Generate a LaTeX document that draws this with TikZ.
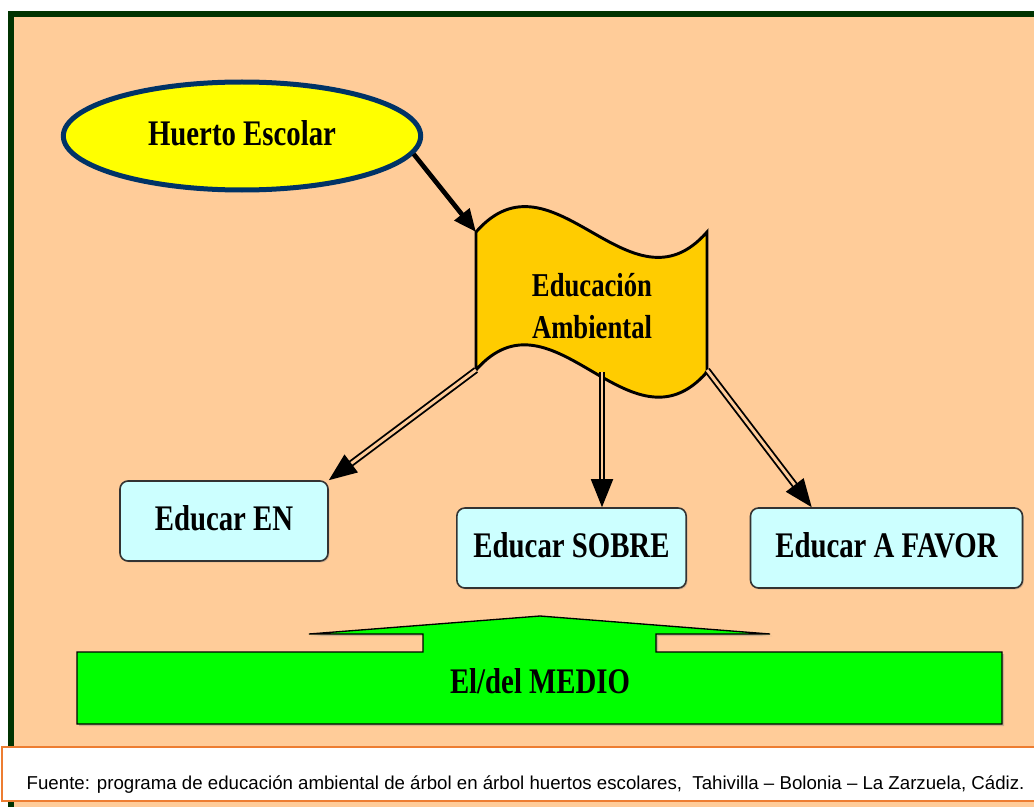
\documentclass[tikz,border=0pt]{standalone}
\usepackage{fontspec}
\usepackage{tikz}
\usetikzlibrary{arrows.meta,shapes.geometric,shadows}
\setmainfont{Liberation Serif}
\newfontfamily\rotfont[FakeStretch=0.8]{Liberation Serif}
\newfontfamily\fuentefont{Liberation Sans}
\definecolor{melocoton}{HTML}{FFCC99}
\definecolor{marco}{HTML}{003300}
\definecolor{azul}{HTML}{003366}
\definecolor{amarillo}{HTML}{FFFF00}
\definecolor{oro}{HTML}{FFCC00}
\definecolor{celeste}{HTML}{CCFFFF}
\definecolor{verde}{HTML}{00FF00}
\definecolor{naranja}{HTML}{ED7D31}

\begin{document}
\begin{tikzpicture}[x=0.75pt,y=-0.75pt,>={Triangle[length=21pt,width=16.5pt]},
                rotulo/.style={font=\rotfont\bfseries\fontsize{27}{32}\selectfont},
                caja/.style={draw=black!80,fill=celeste,rounded corners=6pt,line width=1.2pt,
                             minimum height=60pt,text depth=5pt,rotulo,
                             drop shadow={shadow xshift=1pt,shadow yshift=-1pt,opacity=0.35}},
                doble/.style={->,double=melocoton,double distance=2.2pt,line width=1.4pt}]
            \useasboundingbox (0,0) rectangle (1034,806);
            \clip (0,0) rectangle (1034,806);
            \draw [marco,line width=4.5pt,fill=melocoton] (11,14) rectangle (1045,815);

            \node [ellipse,draw=azul,line width=3.75pt,fill=amarillo,minimum width=268pt,
                   minimum height=81pt,text depth=5pt,rotulo] (huerto) at (242,136) {Huerto Escolar};

            \draw [fill=oro,line width=2.2pt] (476,232) .. controls (553,144) and (630,320) .. (707,232)
                -- (707,372) .. controls (630,460) and (553,282) .. (476,370) -- cycle;
            \node [rotulo,align=center,font=\rotfont\bfseries\fontsize{25}{31}\selectfont] (educacion) at (592,306) {Educación\\Ambiental};
            \coordinate (fsi) at (476,232);
            \coordinate (fbi) at (476,370);
            \coordinate (fbm) at (602,372);
            \coordinate (fbd) at (707,370);

            \node [caja,minimum width=156pt] (en)    at (224,521)   {Educar EN};
            \node [caja,minimum width=172pt] (sobre) at (571.5,548) {Educar SOBRE};
            \node [caja,minimum width=204pt] (favor) at (886.5,548) {Educar A FAVOR};

            \path
            (huerto.-6) edge [->,line width=3.5pt,>={Triangle[length=17pt,width=14pt]}] (fsi)
            (fbi) edge [doble] (en.north east)
            (fbm) edge [doble] (sobre.north -| fbm)
            (fbd) edge [doble] ([xshift=46.5pt]favor.north west);

            \draw [fill=verde,line width=1pt,drop shadow={shadow xshift=1.5pt,shadow yshift=-1.5pt,opacity=0.4}]
                (77,652) -- (423,652) -- (423,634) -- (309,634) -- (540,616) -- (770,634)
                -- (656,634) -- (656,652) -- (1002,652) -- (1002,724) -- (77,724) -- cycle;
            \node [rotulo,anchor=base] (medio) at (540,693) {El/del MEDIO};

            \draw [naranja,line width=1.5pt,fill=white] (2,747) rectangle (1040,801);
            \node [font=\fuentefont\fontsize{14}{17}\selectfont,anchor=base west] (fuente) at (22,789)
                {Fuente: programa de educación ambiental de árbol en árbol huertos escolares,~ Tahivilla – Bolonia – La Zarzuela, Cádiz.};
        \end{tikzpicture}
\end{document}
